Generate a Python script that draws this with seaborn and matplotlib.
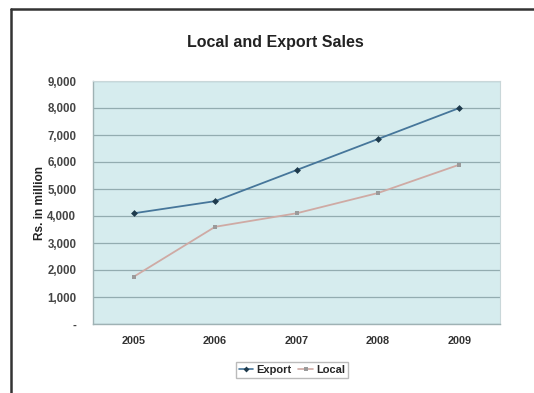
import matplotlib
matplotlib.use("Agg")
import matplotlib.pyplot as plt
from matplotlib.lines import Line2D
from matplotlib.ticker import FuncFormatter, MultipleLocator
import pandas as pd
import seaborn as sns

years = ["2005", "2006", "2007", "2008", "2009"]
export_sales = [4100, 4550, 5700, 6850, 8000]
local_sales = [1750, 3600, 4100, 4850, 5900]

df = pd.DataFrame({
    "Year": years * 2,
    "Sales": export_sales + local_sales,
    "Series": ["Export"] * len(years) + ["Local"] * len(years),
})

sns.set_theme(style="white")
plt.rcParams["font.family"] = ["Liberation Sans", "DejaVu Sans"]

fig = plt.figure(figsize=(5.34, 3.93), dpi=100)
ax = fig.add_axes([93 / 534, 1 - 324 / 393, 407 / 534, 243 / 393])
ax.set_facecolor("#d6ecee")

palette = {"Export": "#46769a", "Local": "#cfaaa4"}
sns.lineplot(data=df, x="Year", y="Sales", hue="Series", style="Series",
             markers={"Export": "D", "Local": "s"}, dashes=False,
             palette=palette, linewidth=1.3, markersize=3.5,
             markeredgewidth=0, ax=ax, legend=False, sort=False)
for line, mc in zip(ax.lines, ["#1e3a4c", "#9a9a9a"]):
    line.set_markerfacecolor(mc)

ax.set_xlim(-0.5, 4.5)
ax.set_ylim(0, 9000)
ax.yaxis.set_major_locator(MultipleLocator(1000))
ax.yaxis.set_major_formatter(FuncFormatter(lambda v, p: "-" if v == 0 else f"{int(v):,}"))
ax.grid(axis="y", color="#93acb0", linewidth=0.9)
ax.grid(axis="x", visible=False)
for side in ["top", "right"]:
    ax.spines[side].set_color("#c9d7d9")
    ax.spines[side].set_linewidth(0.8)
for side in ["left", "bottom"]:
    ax.spines[side].set_color("#9fb2b4")
    ax.spines[side].set_linewidth(1.0)

ax.tick_params(axis="y", length=0, labelsize=8.3, colors="#444444", pad=12)
ax.tick_params(axis="x", length=0, labelsize=7.8, colors="#333333", pad=9)
for lbl in ax.get_xticklabels() + ax.get_yticklabels():
    lbl.set_fontweight("bold")
ax.set_xlabel("")
ax.set_ylabel("Rs. in million", fontsize=8.6, fontweight="bold", color="#222222", labelpad=1)

fig.text(275 / 534, 1 - 43 / 393, "Local and Export Sales", ha="center", va="center",
         fontsize=11.5, fontweight="bold", color="#222222")

handles = [
    Line2D([], [], color=palette["Export"], marker="D", markersize=3,
           markerfacecolor="#1e3a4c", markeredgewidth=0, linewidth=1.2),
    Line2D([], [], color=palette["Local"], marker="s", markersize=3,
           markerfacecolor="#9a9a9a", markeredgewidth=0, linewidth=1.2),
]
fig.legend(handles, ["Export", "Local"], loc="center", ncol=2,
           bbox_to_anchor=(292 / 534, 1 - 370 / 393), frameon=True, fancybox=False,
           edgecolor="#aaaaaa", handlelength=1.3, handletextpad=0.3,
           columnspacing=0.6, borderpad=0.25, prop={"weight": "bold", "size": 8})

# outer frame of the chart area
fig.add_artist(Line2D([11 / 534, 11 / 534], [0, 1 - 9 / 393], transform=fig.transFigure,
                      color="#333333", linewidth=1.8))
fig.add_artist(Line2D([11 / 534, 1], [1 - 9 / 393, 1 - 9 / 393], transform=fig.transFigure,
                      color="#333333", linewidth=1.8))

fig.savefig("out.png", dpi=100, facecolor="white")
